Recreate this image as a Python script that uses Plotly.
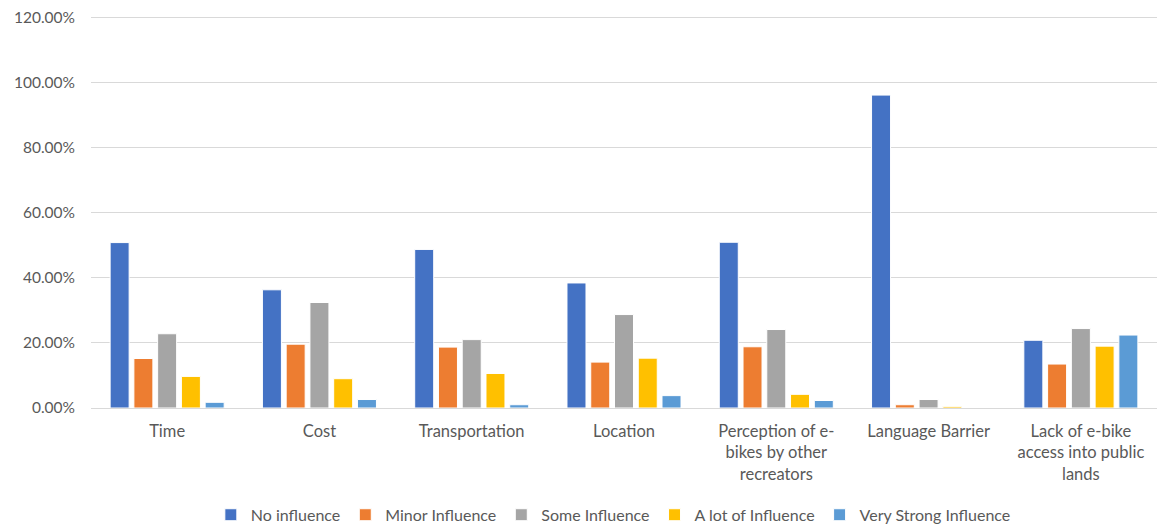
import plotly.graph_objects as go

categories = ["Time", "Cost", "Transportation", "Location",
              "Perception of e-<br>bikes by other<br>recreators",
              "Language Barrier",
              "Lack of e-bike<br>access into public<br>lands"]
series_names = ["No influence", "Minor Influence", "Some Influence",
                "A lot of Influence", "Very Strong Influence"]
no_influence = [0.508, 0.363, 0.487, 0.384, 0.509, 0.961, 0.208]
minor_influence = [0.152, 0.196, 0.187, 0.141, 0.188, 0.010, 0.135]
some_influence = [0.228, 0.324, 0.210, 0.287, 0.241, 0.026, 0.244]
a_lot_influence = [0.097, 0.090, 0.106, 0.153, 0.042, 0.005, 0.190]
very_strong_influence = [0.0175, 0.026, 0.010, 0.038, 0.023, 0.0, 0.224]
colors = ["#4472C4", "#ED7D31", "#A5A5A5", "#FFC000", "#5B9BD5"]

values = [no_influence, minor_influence, some_influence, a_lot_influence, very_strong_influence]

fig = go.Figure()
for name, vals, col in zip(series_names, values, colors):
    fig.add_trace(go.Bar(x=categories, y=vals, name=name,
                         marker=dict(color=col, line=dict(color="white", width=1))))

font_family = "Lato, 'Open Sans', sans-serif"
fig.update_layout(
    barmode="group", bargap=0.22, bargroupgap=0.2,
    width=1158, height=527,
    margin=dict(l=91, r=1, t=14, b=119, autoexpand=False),
    paper_bgcolor="white", plot_bgcolor="white",
    font=dict(family=font_family, size=16, color="#595959"),
    showlegend=True,
    legend=dict(orientation="h", x=0.49, xanchor="center", y=-0.228, yanchor="top",
                font=dict(size=16, color="#595959"), itemwidth=30,
                traceorder="normal"),
    xaxis=dict(showgrid=False, showline=True, linecolor="#D9D9D9", linewidth=1,
               ticks="", automargin=False, ticklabelstandoff=8,
               tickfont=dict(size=16.5, color="#595959")),
    yaxis=dict(range=[0, 1.21], tickvals=[0, 0.2, 0.4, 0.6, 0.8, 1.0, 1.2],
               tickformat=".2%", showgrid=True, automargin=False,
               gridcolor="#D9D9D9", gridwidth=1, zeroline=False, showline=False,
               ticks="", ticklen=0, ticklabelstandoff=15,
               tickfont=dict(size=15.5, color="#595959")),
)
fig.write_html("out.html", config={"displayModeBar": False},
               post_script="document.body.style.margin='0px';")
